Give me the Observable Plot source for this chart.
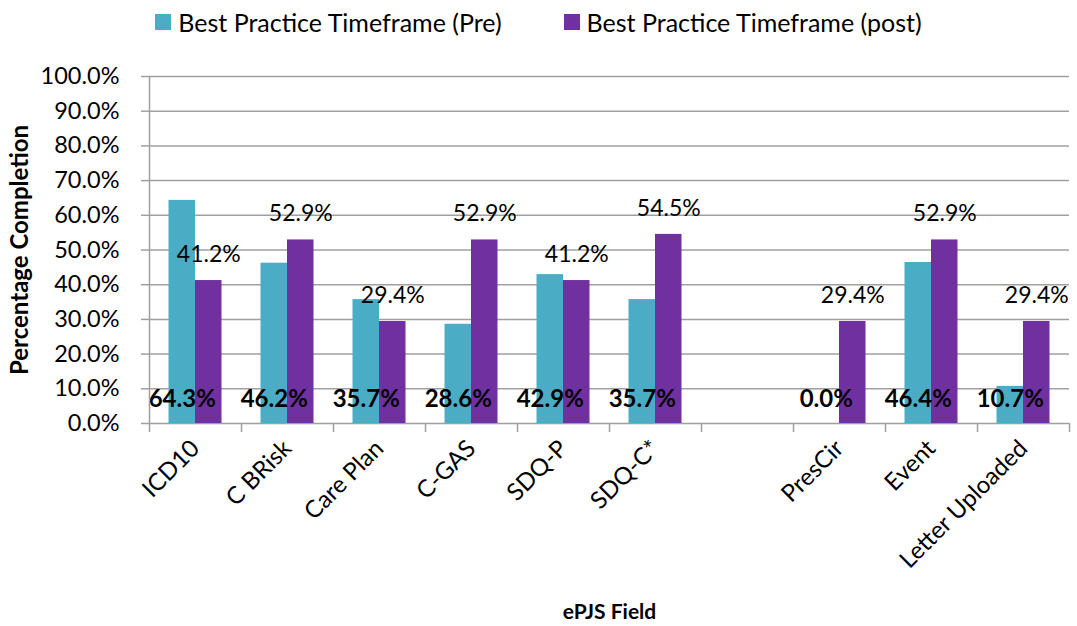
<!DOCTYPE html>
<html><head><meta charset="utf-8">
<script src="https://cdn.jsdelivr.net/npm/d3@7"></script>
<script src="https://cdn.jsdelivr.net/npm/@observablehq/plot@0.6"></script>
<style>
body{margin:0;background:#fff;font-family:Lato,sans-serif;}
#legend{height:60px;padding-bottom:16px;box-sizing:border-box;display:flex;justify-content:center;align-items:center;gap:62px;font-size:25px;color:#000;}
.item{display:flex;align-items:center;}
.sw{width:16px;height:16px;margin-right:7px;}
#chart svg{display:block;}
</style></head><body>
<div id="legend"></div><div id="chart"></div>
<script>
const categories = ["ICD10","C BRisk","Care Plan","C-GAS","SDQ-P","SDQ-C*","","PresCir","Event","Letter Uploaded"];
const preValues  = [64.3, 46.2, 35.7, 28.6, 42.9, 35.7, null, 0.0, 46.4, 10.7];
const postValues = [41.2, 52.9, 29.4, 52.9, 41.2, 54.5, null, 29.4, 52.9, 29.4];
const seriesNames = ["Best Practice Timeframe (Pre)", "Best Practice Timeframe (post)"];
const colors = ["#4BACC6", "#7030A0"];
const yTicks = [0,10,20,30,40,50,60,70,80,90,100];

const pre = [], post = [];
categories.forEach((c, i) => {
  if (preValues[i] != null) pre.push({category: c, series: seriesNames[0], value: preValues[i]});
  if (postValues[i] != null) post.push({category: c, series: seriesNames[1], value: postValues[i]});
});
const fmt = v => v.toFixed(1) + "%";

const W = 1077, H = 566, mL = 149, mR = 8, mT = 16, mB = 203;
const step = (W - mL - mR) / categories.length;
const barW = step * 0.288;
const grid = "#a0a0a0";

// legend
const lg = document.getElementById("legend");
seriesNames.forEach((s, i) => {
  const it = document.createElement("div"); it.className = "item";
  const sw = document.createElement("div"); sw.className = "sw"; sw.style.background = colors[i];
  const t = document.createElement("span"); t.textContent = s;
  it.append(sw, t); lg.append(it);
});

const chart = Plot.plot({
  width: W, height: H, marginLeft: mL, marginRight: mR, marginTop: mT, marginBottom: mB,
  style: {fontFamily: "Lato, sans-serif", fontSize: "23.5px", color: "#000", background: "#fff", overflow: "visible"},
  x: {domain: categories, padding: 0, label: null},
  y: {domain: [0, 100], label: null},
  color: {domain: seriesNames, range: colors},
  marks: [
    Plot.ruleY(yTicks, {stroke: grid, strokeWidth: 1.5}),
    Plot.barY(pre, {x: "category", y: "value", fill: colors[0], insetLeft: step/2 - barW, insetRight: step/2}),
    Plot.barY(post, {x: "category", y: "value", fill: colors[1], insetLeft: step/2, insetRight: step/2 - barW}),
    Plot.text(pre, {x: "category", text: d => fmt(d.value), frameAnchor: "bottom", lineAnchor: "middle", dx: -barW/2, dy: -24, fontWeight: "bold", fontSize: 24}),
    Plot.text(post, {x: "category", y: "value", text: d => fmt(d.value), dx: barW/2, dy: -26, fontSize: 23}),
    Plot.ruleX([categories[0]], {dx: -step/2, y1: 0, y2: 100, stroke: grid, strokeWidth: 1.5}),
    Plot.axisY(yTicks, {tickFormat: fmt, tickSize: 8, tickPadding: 22, stroke: grid, strokeWidth: 1.5, label: null}),
    Plot.axisX(categories, {tickSize: 9, tickFormat: () => "", dx: -step/2, stroke: grid, strokeWidth: 1.5, label: null}),
    Plot.axisX([categories[categories.length-1]], {tickSize: 9, tickFormat: () => "", dx: step/2, stroke: grid, strokeWidth: 1.5, label: null}),
    Plot.axisX({tickSize: 0, tickRotate: -45, tickPadding: 21, fontSize: 24, label: null}),
    Plot.text(["Percentage Completion"], {frameAnchor: "left", textAnchor: "middle", lineAnchor: "middle", dx: -129, rotate: -90, fontWeight: "bold", fontSize: 24}),
    Plot.text(["ePJS Field"], {frameAnchor: "bottom", lineAnchor: "middle", dy: 189, fontWeight: "bold", fontSize: 21})
  ]
});
document.getElementById("chart").append(chart);
</script>
</body></html>
